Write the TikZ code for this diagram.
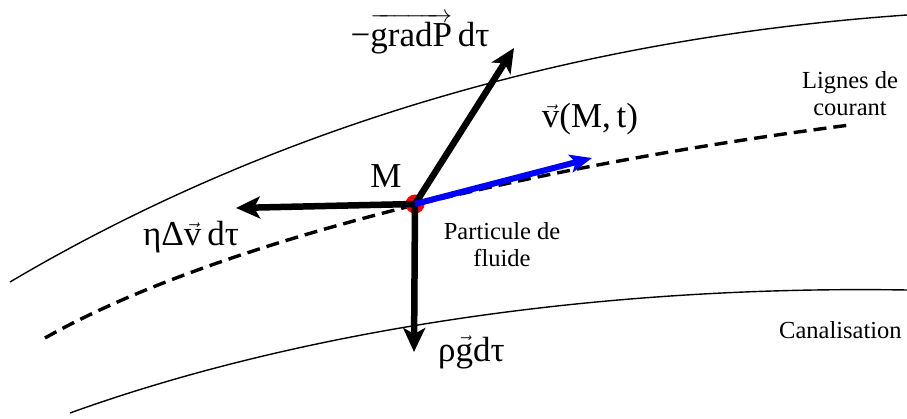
\documentclass[tikz,border=0pt]{standalone}
\usepackage{amsmath}
\usepackage{fontspec}
\setmainfont{Liberation Serif}
\usetikzlibrary{arrows.meta}
\newcommand\vv[1]{\ensuremath{\vec{\hbox{#1}}}}
\begin{document}
\begin{tikzpicture}[x=1pt,y=-1pt,
  wall/.style={line width=1.4pt},
  stream/.style={line width=3.4pt,dash pattern=on 13pt off 7pt},
  force/.style={line width=6.5pt,-{Stealth[length=24pt,width=22pt,inset=6pt]}},
  vel/.style={line width=6pt,blue,-{Stealth[length=22pt,width=18pt,inset=5pt]}},
  big/.style={font=\fontsize{35}{38}\selectfont},
  small/.style={font=\fontsize{24.5}{27}\selectfont,align=center}]
\useasboundingbox (0,0) rectangle (907,419);
% walls and streamline
\draw[wall] (10,282) .. controls (250,140) and (550,40) .. (907,15);
\draw[wall] (70,413) .. controls (300,330) and (600,285) .. (907,290);
\draw[stream] (45,338) .. controls (200,250) and (500,170) .. (850,125);
% point M
\coordinate (M) at (415,204);
\coordinate (gradtip) at (514,48);
\coordinate (etatip) at (236,208);
\coordinate (gtip) at (414,352);
\coordinate (vtip) at (592,158);
\fill[red] (M) circle (9.5pt);
\draw[force] (M) -- (gradtip);
\draw[force] (M) -- (etatip);
\draw[force] (M) -- (gtip);
\draw[vel] (M) -- (vtip);
% labels
\node[big,anchor=base,inner sep=0pt] (lgrad) at (420,47) {−$\overrightarrow{\hbox{gradP}}$\,dτ};
\node[big,anchor=base] (lM) at (386,188) {M};
\node[big,anchor=base] (leta) at (191,246) {ηΔ\vv{v}\,dτ};
\node[big,anchor=base] (lv) at (590,128) {\vv{v}(M,\,t)};
\node[big,anchor=base west,inner sep=0pt] (lg) at (438,361) {ρ\vv{g}dτ};
\node[small] (lpart) at (502,245) {Particule de\\fluide};
\node[small] (llig) at (850,94) {Lignes de\\courant};
\node[small,anchor=base west,inner sep=0pt] (lcan) at (779,338) {Canalisation};
\end{tikzpicture}
\end{document}
